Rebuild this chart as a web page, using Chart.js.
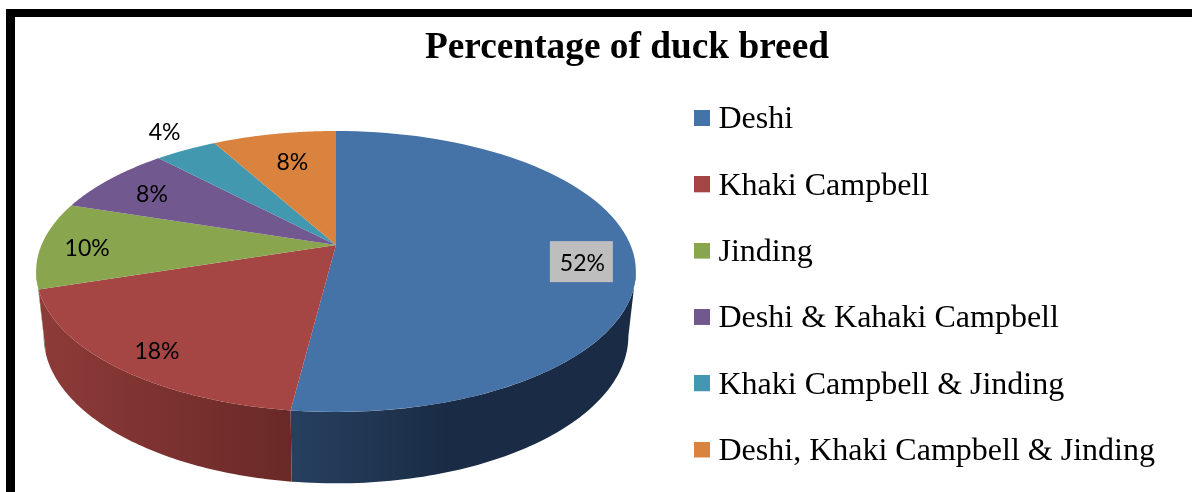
<!DOCTYPE html>
<html>
<head>
<meta charset="utf-8">
<title>Percentage of duck breed</title>
<script src="https://cdn.jsdelivr.net/npm/chart.js@4"></script>
<style>
  html, body { margin: 0; background: #fff; overflow: hidden; }
  #frame { position: absolute; left: 6px; top: 9px; right: 0; bottom: 0; border-top: 8px solid #000; border-left: 9px solid #000; }
  #duckChart { position: absolute; left: 0; top: 0; }
</style>
</head>
<body>
<div id="frame"></div>
<canvas id="duckChart" width="1192" height="492"></canvas>
<script>
// chart values
var breeds = ['Deshi', 'Khaki Campbell', 'Jinding', 'Deshi & Kahaki Campbell', 'Khaki Campbell & Jinding', 'Deshi, Khaki Campbell & Jinding'];
var percents = [52, 18, 10, 8, 4, 8];

// colours
var topColors = ['#4572A7', '#A64644', '#89A54E', '#71588F', '#4198AF', '#D9833F'];
var wallLeft = ['#274060', '#8E3B39', '#5F7534', '#4E3D63', '#2C6878', '#96592A'];
var wallRight = ['#1A2C45', '#692927', '#5F7534', '#4E3D63', '#2C6878', '#96592A'];

// label placement: [radius fraction, dx, dy]
var labelSpots = [[0.83, 0, 11], [0.85, 3, 5], [0.845, 0, 4], [0.8, 0, 3], [1.15, -2, -5], [0.72, 3, 1]];

// the pie is seen in perspective, so the circle is projected on to the page
var apexX = 336, apexY = 245, spanX = 294.5, spanY = 135.5, tilt = -0.1886;

function project(angle, r) {
    var u = r * Math.sin(angle), v = -r * Math.cos(angle);
    var w = 1 + tilt * v;
    return { x: apexX + spanX * u / w, y: apexY + spanY * v / w };
}

// lower rim of the pie wall
function lower(p) {
    return { x: apexX + (p.x - apexX) * 0.975, y: apexY + 63 + (p.y - apexY) * 1.05 };
}

function sliceAngles(el) {
    return { a: el.startAngle + Math.PI / 2, b: el.endAngle + Math.PI / 2 };
}

function drawTop(ctx) {
    var s = sliceAngles(this);
    ctx.save();
    ctx.beginPath();
    ctx.moveTo(apexX, apexY);
    for (var i = 0; i <= 80; i++) {
        var p = project(s.a + (s.b - s.a) * i / 80, 1);
        ctx.lineTo(p.x, p.y);
    }
    ctx.closePath();
    ctx.fillStyle = this.options.backgroundColor;
    ctx.fill();
    ctx.restore();
}

// legend swatch: 16px square, sits 2px above the middle of the text
function swatch(color) {
    var c = document.createElement('canvas');
    c.width = 16;
    c.height = 20;
    var g = c.getContext('2d');
    g.fillStyle = color;
    g.fillRect(0, 0, 16, 16);
    return c;
}

var pie3d = {
    id: 'pie3d',
    afterDatasetsUpdate: function (chart) {
        chart.getDatasetMeta(0).data.forEach(function (el) { el.draw = drawTop; });
    },
    afterLayout: function (chart) {
        // legend and title sit where they do in the picture
        var lg = chart.legend, pad = lg.options.labels.padding;
        lg.left = 701.5 - pad;
        lg.top = 104 - pad;
        lg.bottom = 700;
        chart.titleBlock.left = 425;
        chart.titleBlock.right = 829;
    },
    beforeDatasetsDraw: function (chart) {
        var ctx = chart.ctx;
        var from = 100.9 * Math.PI / 180, to = 259.1 * Math.PI / 180;
        chart.getDatasetMeta(0).data.forEach(function (el, n) {
            var s = sliceAngles(el);
            var a = Math.max(s.a, from), b = Math.min(s.b, to);
            if (b <= a) return;
            var rim = [];
            for (var i = 0; i <= 80; i++) rim.push(project(a + (b - a) * i / 80, 1));
            var minX = Math.min(rim[0].x, rim[80].x), maxX = Math.max(rim[0].x, rim[80].x);
            var g = ctx.createLinearGradient(minX, 0, maxX, 0);
            g.addColorStop(0, wallLeft[n]);
            g.addColorStop(n === 0 ? 0.45 : 1, wallRight[n]);
            g.addColorStop(1, wallRight[n]);
            ctx.beginPath();
            rim.forEach(function (p, i) { i ? ctx.lineTo(p.x, p.y) : ctx.moveTo(p.x, p.y); });
            rim.slice().reverse().forEach(function (p) {
                var q = lower(p);
                ctx.lineTo(q.x, q.y);
            });
            ctx.closePath();
            ctx.fillStyle = g;
            ctx.fill();
        });
    },
    afterDatasetsDraw: function (chart) {
        var ctx = chart.ctx;
        ctx.save();
        ctx.font = '23px Lato';
        ctx.textAlign = 'center';
        ctx.textBaseline = 'middle';
        chart.getDatasetMeta(0).data.forEach(function (el, n) {
            var s = sliceAngles(el), spot = labelSpots[n];
            var p = project((s.a + s.b) / 2, spot[0]);
            var x = p.x + spot[1], y = p.y + spot[2];
            if (n === 0) {
                ctx.fillStyle = '#BEBEBE';
                ctx.fillRect(x - 32.5, y - 22, 63, 41);
            }
            ctx.fillStyle = '#000';
            ctx.fillText(percents[n] + '%', x, y);
        });
        ctx.restore();
    }
};

var ctx = document.getElementById('duckChart').getContext('2d');
var chart = new Chart(ctx, {
    type: 'pie',
    data: {
        labels: breeds,
        datasets: [{
            data: percents,
            backgroundColor: topColors,
            borderWidth: 0
        }]
    },
    options: {
        responsive: false,
        animation: false,
        plugins: {
            title: {
                display: true,
                text: 'Percentage of duck breed',
                color: '#000',
                font: { family: '"Liberation Serif"', size: 37.4, weight: 'bold' },
                padding: { top: 26, bottom: 0 }
            },
            legend: {
                position: 'right',
                align: 'start',
                labels: {
                    color: '#000',
                    font: { family: '"Liberation Serif"', size: 32 },
                    padding: 34.3,
                    usePointStyle: true,
                    pointStyleWidth: 1,
                    generateLabels: function () {
                        return breeds.map(function (name, i) {
                            return { text: name, fillStyle: topColors[i], pointStyle: swatch(topColors[i]), lineWidth: 0, index: i };
                        });
                    }
                }
            },
            tooltip: { enabled: false }
        }
    },
    plugins: [pie3d]
});
</script>
</body>
</html>
